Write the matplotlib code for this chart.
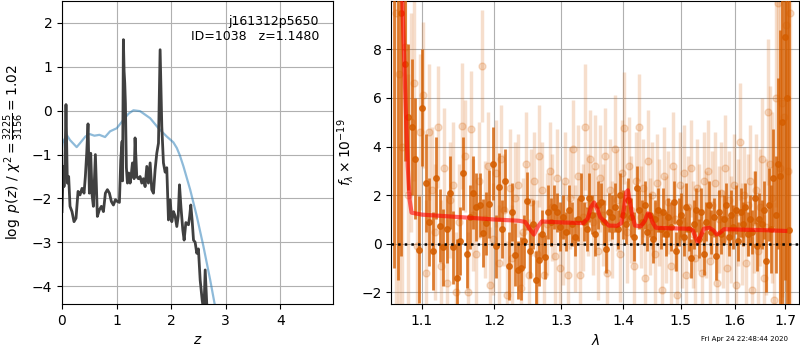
import matplotlib
matplotlib.use('Agg')
import matplotlib.pyplot as plt
import numpy as np
from matplotlib.ticker import FormatStrFormatter, NullLocator

# ---------------- left panel: p(z) ----------------
pz_z = [0.00, 0.024, 0.037, 0.055, 0.073, 0.098, 0.122, 0.147, 0.183, 0.220, 0.257,
        0.294, 0.330, 0.367, 0.404, 0.428, 0.453, 0.477, 0.502, 0.526, 0.551, 0.575,
        0.612, 0.648, 0.685, 0.722, 0.759, 0.795, 0.832, 0.869, 0.905, 0.942, 0.979,
        1.015, 1.052, 1.077, 1.101, 1.110, 1.125, 1.138, 1.150, 1.162, 1.180, 1.199,
        1.223, 1.248, 1.270, 1.291, 1.321, 1.339, 1.370, 1.400, 1.431, 1.462, 1.492,
        1.523, 1.554, 1.584, 1.615, 1.645, 1.676, 1.706, 1.737, 1.768, 1.798, 1.829,
        1.859, 1.890, 1.920, 1.951, 1.982, 2.012, 2.043, 2.073, 2.104, 2.130, 2.153,
        2.180, 2.214, 2.238, 2.270, 2.318, 2.340, 2.360, 2.385, 2.410, 2.440, 2.470,
        2.500, 2.532, 2.569, 2.600, 2.624, 2.660]
pz_logp = [-2.30, -1.27, -1.73, -1.19, 0.14, -1.65, -1.50, -2.18, -2.30, -2.53, -2.45,
           -1.84, -1.92, -1.77, -1.88, -1.50, -0.97, -0.30, -1.88, -0.97, -1.92, -2.18,
           -1.00, -2.41, -2.26, -2.18, -2.30, -1.88, -1.80, -1.88, -2.07, -2.15, -2.03,
           -2.07, -2.09, -1.12, -0.70, -1.60, 1.62, 0.90, 0.63, 0.17, -1.30, -1.65,
           -1.42, -1.65, -1.45, -1.19, -1.55, -0.62, -1.50, -1.55, -1.50, -1.65, -1.55,
           -1.73, -1.27, -1.65, -1.19, -1.80, -1.88, -1.35, -0.97, -0.74, 1.39, -0.36,
           -1.19, -1.40, -1.30, -2.49, -2.03, -2.53, -2.30, -2.40, -2.64, -2.40, -1.69,
           -2.20, -2.72, -2.95, -2.55, -2.60, -2.40, -2.15, -2.50, -2.95, -3.00, -3.25,
           -3.15, -3.86, -4.32, -4.60, -3.63, -4.60]

prior_z = [0.00, 0.010, 0.086, 0.147, 0.269, 0.330, 0.428, 0.502, 0.594, 0.685, 0.789,
           0.881, 1.003, 1.125, 1.217, 1.309, 1.431, 1.615, 1.768, 1.921, 2.040, 2.104,
           2.160, 2.226, 2.349, 2.471, 2.593, 2.716, 2.807, 2.850]
prior_logp = [-0.85, -0.74, -0.55, -0.67, -0.83, -0.74, -0.59, -0.53, -0.57, -0.55, -0.60,
              -0.47, -0.40, -0.21, -0.07, 0.01, -0.01, -0.17, -0.40, -0.59, -0.72, -0.85,
              -1.02, -1.27, -1.80, -2.41, -3.10, -3.86, -4.47, -4.80]

# ---------------- right panel: spectrum ----------------
# combined G141 spectrum (um, 1e-19 flux)
sp_wave = list(np.round(np.arange(1.064, 1.7095, 0.0046), 4))
sp_flux = [11.0, 10.5, 9.5, 7.4, 5.2, 4.8, 3.5, -0.25, 5.6, 2.5,
           0.9, -0.3, 2.7, 0.75, -0.15, 0.6, 2.1, -0.15, -1.4, 0.1,
           2.9, -0.4, 1.1, 2.1, 1.5, 1.6, 0.45, 0.85, 1.65, 3.3,
           -0.1, 2.35, 0.6, 2.6, -0.9, 1.3, -0.45, -1.07, -1.0, 0.1,
           1.75, -0.3, 0.8, -1.5, -0.65, 0.4, -0.55, 1.3, 0.9, 1.5,
           1.3, 0.7, 1.1, 0.5, 1.4, 0.8, 0.3, 1.0, 1.9, 0.9,
           0.6, 1.9, 1.2, 0.4, 1.6, 1.7, 0.9, -0.2, 1.3, 1.1,
           1.5, 0.6, 2.0, 1.2, 0.8, 1.8, 1.1, 0.3, 2.3, 1.4,
           0.9, 1.6, 0.5, 1.2, 0.2, 1.0, 1.4, 0.6, 1.3, 0.4,
           1.1, 0.7, 1.7, -0.3, 0.9, 1.2, 0.3, 1.5, 0.6, -0.6,
           0.8, 1.4, 0.2, 1.3, -0.4, 0.9, 1.6, 0.5, 1.1, -0.5,
           1.3, 0.4, 1.0, 1.6, 0.3, 1.2, 0.7, 1.4, 0.1, 1.3,
           0.8, 1.5, 0.4, 1.0, 0.5, 1.9, -0.1, 1.0, 0.8, 1.4,
           -0.7, 1.6, 0.6, 2.7, 1.2, 3.3, 2.8, 5.0, 8.5, 6.0, 0.55]
sp_err = [12, 12, 10, 4.0, 3.0, 2.8, 2.5, 2.2, 2.4, 2.0,
          1.8, 1.6, 1.7, 1.5, 1.6, 1.4, 1.5, 1.5, 1.6, 1.4,
          1.5, 1.4, 1.3, 1.5, 1.4, 1.3, 1.4, 1.3, 1.4, 1.5,
          1.3, 1.4, 1.2, 1.3, 1.4, 1.2, 1.3, 1.2, 1.3, 1.1,
          1.2, 1.1, 1.0, 1.2, 1.1, 1.0, 0.9, 1.1, 1.0, 0.9,
          0.8, 1.0, 0.9, 0.8, 1.0, 0.9, 0.8, 0.9, 1.0, 0.8,
          0.9, 1.0, 0.8, 0.9, 1.0, 0.8, 0.9, 1.0, 0.8, 0.9,
          1.0, 0.8, 0.9, 1.0, 0.8, 0.9, 0.8, 1.0, 0.9, 0.8,
          0.9, 1.0, 0.8, 0.9, 1.0, 0.8, 0.9, 0.8, 1.0, 0.9,
          0.8, 1.0, 0.9, 0.8, 1.0, 0.9, 0.8, 1.0, 0.9, 0.8,
          1.0, 0.9, 0.8, 1.0, 0.9, 0.8, 1.0, 0.9, 0.8, 1.0,
          0.9, 0.8, 1.0, 0.9, 0.8, 1.0, 0.9, 1.0, 0.8, 1.0,
          0.9, 1.0, 0.9, 1.0, 0.9, 1.1, 1.0, 1.1, 1.0, 1.2,
          1.3, 1.5, 1.8, 2.0, 2.4, 3.5, 6.0, 8.0, 10, 12, 12]

# individual beams (faint)
beam_wave = list(np.round(np.arange(1.066, 1.7105, 0.004), 4))
beam_flux = [9.5, 7.0, 4.0, 8.1, 2.0, 5.0, 6.6, -0.1, 4.6, 6.1,
             -1.2, 4.6, 2.2, 0.5, 4.8, -0.9, 3.1, -1.6, 1.8, 2.4,
             -2.0, 0.9, 4.85, 3.6, -2.0, 4.7, 1.2, -0.4, 2.6, 7.3,
             1.0, 3.2, -1.7, 0.2, 2.9, -0.8, 3.5, 1.4, -2.1, 2.3,
             -0.6, 1.9, 2.4, -1.8, 0.5, 3.3, -1.3, 1.7, 2.6, -0.4,
             3.6, 2.2, -1.3, 0.8, 3.0, 1.5, -0.5, 2.7, -1.0, 0.4,
             2.6, -1.3, 1.9, 3.9, 0.2, 2.8, -1.3, 1.1, 4.8, 1.6,
             3.5, 0.9, 3.2, -0.3, 2.7, 1.2, 3.6, -1.2, 2.2, 0.6,
             3.9, 1.8, -0.4, 2.9, 4.75, 0.5, 3.2, 1.4, -0.9, 2.6,
             4.8, 1.1, 2.3, -1.4, 3.4, 0.7, 2.0, -0.4, 2.5, 1.3,
             -1.9, 2.8, 0.6, 1.7, -0.9, 3.2, 1.0, -2.1, 2.4, 0.3,
             2.9, -1.3, 1.5, 3.1, 0.4, -0.6, 2.3, 1.1, -1.2, 2.6,
             0.8, 3.0, -0.7, 1.6, 2.5, -1.6, 1.0, 2.1, 0.2, 3.1,
             -1.0, 1.8, 0.6, 2.4, -1.7, 1.3, 4.2, 0.4, 2.0, -0.8,
             1.6, 2.6, -1.9, 0.9, 2.2, -0.3, 1.5, 3.5, -1.4, 0.7,
             5.4, 3.3, 1.9, -2.3, 6.0, 9.9, 3.1, 5.8, 5.2, 9.0, 3.0, 9.5]
beam_err = [14, 10, 8, 6, 5, 4.5, 4.0, 3.5, 3.2, 3.0,
            3.0, 2.8, 2.6, 2.8, 2.5, 2.7, 2.5, 2.6, 2.4, 2.6,
            2.5, 2.4, 2.6, 2.3, 2.5, 2.4, 2.3, 2.5, 2.4, 2.3,
            2.4, 2.2, 2.4, 2.3, 2.2, 2.4, 2.2, 2.3, 2.2, 2.4,
            2.2, 2.3, 2.1, 2.3, 2.2, 2.1, 2.3, 2.2, 2.0, 2.2,
            2.1, 2.0, 2.2, 2.1, 2.0, 2.2, 2.1, 2.0, 2.2, 2.1,
            2.0, 2.2, 2.1, 2.0, 2.2, 2.1, 2.0, 2.2, 2.6, 2.1,
            2.0, 2.2, 2.1, 2.0, 2.2, 2.1, 2.0, 2.2, 2.1, 2.0,
            2.2, 2.1, 2.0, 2.2, 2.3, 2.1, 2.0, 2.2, 2.1, 2.0,
            2.2, 2.1, 2.0, 2.2, 2.1, 2.0, 2.2, 2.1, 2.0, 2.2,
            2.1, 2.0, 2.2, 2.1, 2.0, 2.2, 2.1, 2.0, 2.2, 2.1,
            2.0, 2.2, 2.1, 2.0, 2.2, 2.1, 2.0, 2.2, 2.1, 2.0,
            2.2, 2.1, 2.0, 2.2, 2.1, 2.0, 2.2, 2.1, 2.0, 2.2,
            2.1, 2.0, 2.2, 2.1, 2.0, 2.2, 2.4, 2.1, 2.0, 2.2,
            2.1, 2.3, 2.2, 2.1, 2.3, 2.2, 2.4, 2.5, 2.6, 2.8,
            3.0, 3.2, 3.5, 4.0, 4.5, 6.0, 7.0, 8.0, 9.0, 11, 12, 14]

# best-fit model
model_wave = [1.0740, 1.0765, 1.0790, 1.0815, 1.0840, 1.0865, 1.10, 1.15, 1.20, 1.235,
              1.245, 1.252, 1.258, 1.264, 1.270, 1.30, 1.335, 1.342, 1.347, 1.352,
              1.357, 1.362, 1.368, 1.376, 1.390, 1.397, 1.401, 1.405, 1.408, 1.411,
              1.415, 1.420, 1.430, 1.437, 1.442, 1.446, 1.450, 1.456, 1.48, 1.515,
              1.522, 1.527, 1.531, 1.536, 1.542, 1.552, 1.560, 1.566, 1.572, 1.580,
              1.62, 1.66, 1.70]
model_flux = [10.5, 8.0, 5.5, 3.2, 1.8, 1.28, 1.2, 1.1, 1.0, 0.95,
              0.9, 0.6, 0.38, 0.7, 0.92, 0.88, 0.85, 1.05, 1.5, 1.7,
              1.45, 1.1, 0.95, 0.75, 0.74, 0.85, 1.4, 2.1, 2.2, 1.8,
              1.2, 0.75, 0.72, 0.95, 1.25, 1.2, 0.9, 0.66, 0.64, 0.62,
              0.55, 0.25, 0.05, 0.3, 0.62, 0.66, 0.55, 0.38, 0.45, 0.6,
              0.58, 0.56, 0.53]

label_text = 'j161312p5650\nID=1038   z=1.1480'
date_text = 'Fri Apr 24 22:48:44 2020'
g141_color = (0.8352941176470589, 0.3686274509803922, 0.0)

# ----------------------------------------------- #
fig = plt.figure(figsize=(8, 3.5), dpi=100)
ax1 = fig.add_axes([0.0775, 0.131, 0.339, 0.866])
ax2 = fig.add_axes([0.489, 0.131, 0.51, 0.866])

# left
ax1.plot(prior_z, prior_logp, color='tab:blue', alpha=0.5, lw=1.6)
ax1.plot(pz_z, pz_logp, color='0.25', lw=2.0)
ax1.set_xlim(0, 4.97)
ax1.set_ylim(-4.41, 2.5)
ax1.set_xticks([0, 1, 2, 3, 4])
ax1.set_yticks([-4, -3, -2, -1, 0, 1, 2])
ax1.grid(True)
ax1.set_xlabel('$z$')
ax1.set_ylabel(r'$\log\ p(z)$ / $\chi^2=\frac{3225}{3156}=1.02$')
ax1.text(0.948, 0.955, label_text, ha='right', va='top', transform=ax1.transAxes,
         fontsize=9)

# right
ax2.errorbar(beam_wave, beam_flux, yerr=beam_err, marker='o', ms=5, linestyle='none',
             color=g141_color, alpha=0.2, elinewidth=2.5, capsize=0, zorder=2)
ax2.errorbar(sp_wave, sp_flux, yerr=sp_err, marker='o', ms=4, linestyle='none',
             color=g141_color, alpha=0.8, elinewidth=2.0, capsize=0, zorder=3)
ax2.plot(model_wave, model_flux, color='red', alpha=0.6, lw=3, zorder=4)
ax2.axhline(0, color='k', linestyle=':', lw=1.8, zorder=5)

ax2.set_xscale('log')
ax2.set_xlim(1.0603, 1.7288)
ax2.set_ylim(-2.48, 9.98)
ax2.set_xticks([1.1, 1.2, 1.3, 1.4, 1.5, 1.6, 1.7])
ax2.xaxis.set_major_formatter(FormatStrFormatter('%.1f'))
ax2.xaxis.set_minor_locator(NullLocator())
ax2.set_yticks([-2, 0, 2, 4, 6, 8])
ax2.grid(True)
ax2.set_xlabel(r'$\lambda$')
ax2.set_ylabel(r'$f_\lambda \times 10^{-19}$')

fig.text(0.985, 0.031, date_text, ha='right', va='center', fontsize=5)

plt.savefig('out.png', dpi=100)
